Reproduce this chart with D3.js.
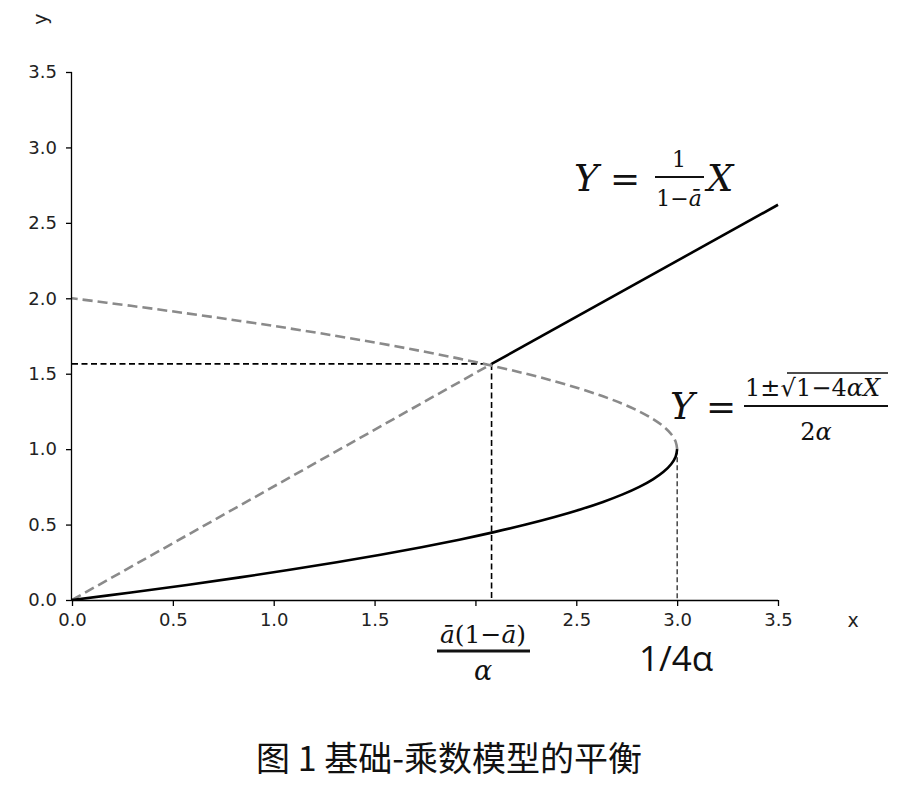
<!DOCTYPE html>
<html>
<head>
<meta charset="utf-8">
<script src="https://cdn.jsdelivr.net/npm/d3@7"></script>
<style>
  body { margin: 0; background: #fff; }
  .math { font-family: "DejaVu Serif", "Liberation Serif", serif; fill: #111; }
</style>
</head>
<body>
<div class="chart"></div>
<script>
// values
const xTicks = [0, 0.5, 1, 1.5, 2, 2.5, 3, 3.5]
const yTicks = [0, 0.5, 1, 1.5, 2, 2.5, 3, 3.5]
const hiddenXLabels = [2]   // the 2.0 label is covered by the fraction

// lower branch of the parabola (solid black), x then y
const lowerX = [0, 0.2925, 0.57, 0.8325, 1.08, 1.3125, 1.53, 1.7325, 1.92, 2.0925, 2.25, 2.3925, 2.52, 2.6325, 2.73, 2.8125, 2.88, 2.9325, 2.97, 2.9925, 3]
const lowerY = [0, 0.05, 0.1, 0.15, 0.2, 0.25, 0.3, 0.35, 0.4, 0.45, 0.5, 0.55, 0.6, 0.65, 0.7, 0.75, 0.8, 0.85, 0.9, 0.95, 1]
// upper branch (grey dashed)
const upperX = [3, 2.9925, 2.97, 2.9325, 2.88, 2.8125, 2.73, 2.6325, 2.52, 2.3925, 2.25, 2.0925, 1.92, 1.7325, 1.53, 1.3125, 1.08, 0.8325, 0.57, 0.2925, 0]
const upperY = [1, 1.05, 1.1, 1.15, 1.2, 1.25, 1.3, 1.35, 1.4, 1.45, 1.5, 1.55, 1.6, 1.65, 1.7, 1.75, 1.8, 1.85, 1.9, 1.95, 2]
// straight line Y = X/(1-a)
const lineSolidX = [2.08, 3.5]
const lineSolidY = [1.565, 2.62]
const lineDashX = [0, 2.08]
const lineDashY = [0, 1.565]
// equilibrium point and vertex
const eqPoint = [2.08, 1.565]
const vertex = [3, 1]

const width = 906
const height = 788
const margin = { left: 72, top: 72 }
const plotW = 706
const plotH = 528

const svg = d3.select('.chart')
  .append('svg')
  .attr('width', width)
  .attr('height', height)

const g = svg.append('g')
  .attr('transform', 'translate(' + margin.left + ',' + margin.top + ')')

const xScale = d3.scaleLinear().domain([0, 3.5]).range([0, plotW])
const yScale = d3.scaleLinear().domain([0, 3.5]).range([plotH, 0])

const zip = (xs, ys) => xs.map((x, i) => [x, ys[i]])
const line = d3.line()
  .x(d => xScale(d[0]))
  .y(d => yScale(d[1]))
  .curve(d3.curveCatmullRom)

// guide lines
g.append('path')
  .attr('d', line([[0, eqPoint[1]], eqPoint]))
  .attr('fill', 'none').attr('stroke', '#000').attr('stroke-width', 1.6)
  .attr('stroke-dasharray', '6,3.5')
g.append('path')
  .attr('d', line([eqPoint, [eqPoint[0], 0]]))
  .attr('fill', 'none').attr('stroke', '#000').attr('stroke-width', 1.6)
  .attr('stroke-dasharray', '6,3.5')
g.append('path')
  .attr('d', line([vertex, [vertex[0], 0]]))
  .attr('fill', 'none').attr('stroke', '#000').attr('stroke-width', 1.1)
  .attr('stroke-dasharray', '5,3')

// grey dashed pieces
g.append('path')
  .attr('d', line(zip(upperX, upperY)))
  .attr('fill', 'none').attr('stroke', '#8a8a8a').attr('stroke-width', 2.6)
  .attr('stroke-dasharray', '10,5')
g.append('path')
  .attr('d', line(zip(lineDashX, lineDashY)))
  .attr('fill', 'none').attr('stroke', '#8a8a8a').attr('stroke-width', 2.6)
  .attr('stroke-dasharray', '10,5')

// solid black pieces
g.append('path')
  .attr('d', line(zip(lowerX, lowerY)))
  .attr('fill', 'none').attr('stroke', '#000').attr('stroke-width', 2.6)
g.append('path')
  .attr('d', line(zip(lineSolidX, lineSolidY)))
  .attr('fill', 'none').attr('stroke', '#000').attr('stroke-width', 2.6)

// axes
const fmt = d3.format('.1f')
const xAxis = d3.axisBottom(xScale).tickValues(xTicks)
  .tickFormat(d => hiddenXLabels.includes(d) ? '' : fmt(d))
  .tickSize(6).tickPadding(7)
const yAxis = d3.axisLeft(yScale).tickValues(yTicks).tickFormat(fmt).tickSize(6).tickPadding(9)

g.append('g')
  .attr('transform', 'translate(0,' + plotH + ')')
  .call(xAxis)
  .attr('font-size', 18)
  .attr('font-family', 'DejaVu Sans')
  .call(a => a.select('.domain').attr('d', 'M0,0.5H' + plotW))
g.append('g')
  .call(yAxis)
  .attr('font-size', 18)
  .attr('font-family', 'DejaVu Sans')
  .call(a => a.select('.domain').attr('d', 'M-0.5,0V' + plotH))
g.selectAll('.domain, .tick line').attr('stroke', '#000').attr('stroke-width', 1.3)
g.selectAll('.tick text').attr('fill', '#222')

// axis labels
svg.append('text')
  .attr('x', 853).attr('y', 627)
  .attr('text-anchor', 'middle')
  .style('font-family', '"DejaVu Sans", sans-serif').style('font-size', '19px').style('fill', '#222')
  .text('x')
svg.append('text')
  .attr('transform', 'translate(47,19) rotate(-90)')
  .attr('text-anchor', 'middle')
  .style('font-family', '"DejaVu Sans", sans-serif').style('font-size', '19px').style('fill', '#222')
  .text('y')

// formula: Y = 1/(1-ā) X
const f1 = svg.append('g').attr('class', 'math')
f1.append('text').attr('x', 574).attr('y', 191).style('font-size', '37px').style('font-style', 'italic').text('Y')
f1.append('text').attr('x', 610).attr('y', 191).style('font-size', '36px').text('=')
f1.append('text').attr('x', 679).attr('y', 167).attr('text-anchor', 'middle').style('font-size', '22px').text('1')
f1.append('line').attr('x1', 655).attr('x2', 704).attr('y1', 177).attr('y2', 177).attr('stroke', '#111').attr('stroke-width', 2.2)
f1.append('text').attr('x', 679).attr('y', 206).attr('text-anchor', 'middle').style('font-size', '22px')
  .html('1−<tspan font-style="italic">ā</tspan>')
f1.append('text').attr('x', 707).attr('y', 191).style('font-size', '37px').style('font-style', 'italic').text('X')

// formula: Y = (1 ± sqrt(1-4αX)) / 2α
const f2 = svg.append('g').attr('class', 'math')
f2.append('text').attr('x', 670).attr('y', 419).style('font-size', '37px').style('font-style', 'italic').text('Y')
f2.append('text').attr('x', 706).attr('y', 419).style('font-size', '36px').text('=')
f2.append('text').attr('x', 745).attr('y', 396).style('font-size', '24px').text('1±√')
f2.append('text').attr('x', 838).attr('y', 396).attr('text-anchor', 'middle').style('font-size', '24px')
  .html('1−4<tspan font-style="italic">αX</tspan>')
f2.append('line').attr('x1', 787).attr('x2', 888).attr('y1', 373).attr('y2', 373).attr('stroke', '#111').attr('stroke-width', 1.6)
f2.append('line').attr('x1', 744).attr('x2', 888).attr('y1', 406).attr('y2', 406).attr('stroke', '#111').attr('stroke-width', 2.2)
f2.append('text').attr('x', 816).attr('y', 440).attr('text-anchor', 'middle').style('font-size', '24px')
  .html('2<tspan font-style="italic">α</tspan>')

// fraction under the x axis
const f3 = svg.append('g').attr('class', 'math')
f3.append('text').attr('x', 483).attr('y', 643).attr('text-anchor', 'middle').style('font-size', '25px')
  .html('<tspan font-style="italic">ā</tspan>(1−<tspan font-style="italic">ā</tspan>)')
f3.append('line').attr('x1', 437).attr('x2', 530).attr('y1', 651).attr('y2', 651).attr('stroke', '#111').attr('stroke-width', 3)
f3.append('text').attr('x', 483).attr('y', 680).attr('text-anchor', 'middle').style('font-size', '27px').style('font-style', 'italic').text('α')

svg.append('text')
  .attr('x', 676).attr('y', 671)
  .attr('text-anchor', 'middle')
  .style('font-family', '"Open Sans", "DejaVu Sans", sans-serif').style('font-size', '35px').style('fill', '#111')
  .text('1/4α')

// caption
svg.append('text')
  .attr('x', 449).attr('y', 771)
  .attr('text-anchor', 'middle')
  .style('font-family', '"Noto Sans CJK SC", sans-serif').style('font-size', '34px').style('fill', '#111')
  .text('图 1 基础-乘数模型的平衡')
</script>
</body>
</html>
